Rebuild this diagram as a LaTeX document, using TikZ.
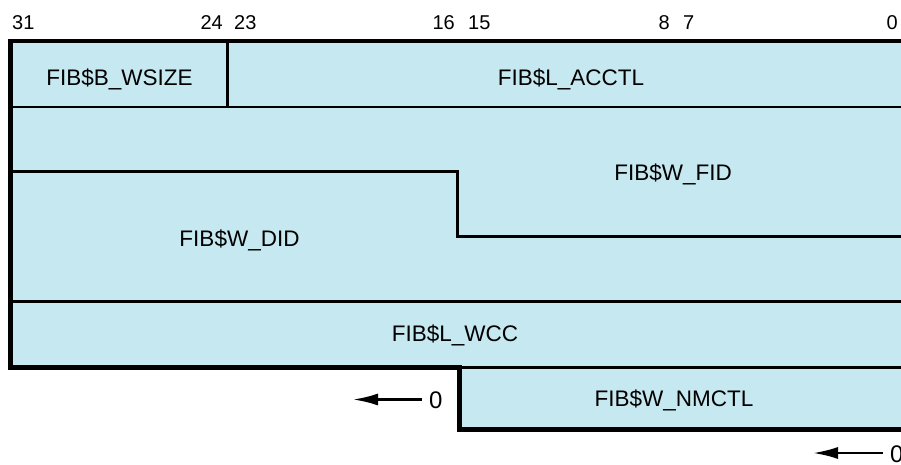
\documentclass[tikz,border=0pt]{standalone}
\usepackage{fontspec}
\setmainfont{Liberation Sans}
\usetikzlibrary{arrows.meta}
\definecolor{fieldblue}{RGB}{198,232,240}
\begin{document}
\begin{tikzpicture}[x=1pt,y=-1pt,
  fieldlbl/.style={font=\fontsize{22.5}{22.5}\selectfont, inner sep=0, anchor=base},
  bitlbl/.style={font=\fontsize{20}{20}\selectfont, inner sep=0},
  zerolbl/.style={font=\fontsize{24}{24}\selectfont, inner sep=0, outer xsep=7pt, anchor=base west},
  frameline/.style={line width=5pt, line join=miter},
  topline/.style={line width=4.5pt},
  sepline/.style={line width=2.6pt},
  arrowline/.style={line width=2.4pt, -{Latex[length=25pt,width=12pt]}}]
\useasboundingbox (0,0) rectangle (901,465);
% fills
\fill[fieldblue] (10.5,41) rectangle (901,367.5);
\fill[fieldblue] (459.5,367.5) rectangle (901,429.5);
% internal separators
\draw[sepline] (227.5,41) -- (227.5,107);
\draw[sepline] (10.5,107) -- (901,107);
\draw[sepline, line join=miter] (10.5,171.5) -- (457.5,171.5) -- (457.5,236.5) -- (901,236.5);
\draw[sepline] (10.5,301.5) -- (901,301.5);
\draw[sepline] (459.5,367.5) -- (901,367.5);
% frame
\draw[topline] (8,41) -- (901,41);
\draw[frameline] (10.5,39) -- (10.5,367.5) -- (459.5,367.5) -- (459.5,429.5) -- (901,429.5);
% bit numbers
\node[bitlbl, anchor=base west] (b31) at (12,30) {31};
\node[bitlbl, anchor=base east] (b24) at (223,30) {24};
\node[bitlbl, anchor=base west] (b23) at (234,30) {23};
\node[bitlbl, anchor=base east] (b16) at (455,30) {16};
\node[bitlbl, anchor=base west] (b15) at (468,30) {15};
\node[bitlbl, anchor=base east] (b8) at (670,30) {8};
\node[bitlbl, anchor=base west] (b7) at (683,30) {7};
\node[bitlbl, anchor=base east] (b0) at (898,30) {0};
% field names
\node[fieldlbl] (wsize) at (119.5,86) {FIB\$B\_WSIZE};
\node[fieldlbl] (acctl) at (571,86) {FIB\$L\_ACCTL};
\node[fieldlbl] (fid) at (673,181) {FIB\$W\_FID};
\node[fieldlbl] (did) at (239.5,246) {FIB\$W\_DID};
\node[fieldlbl] (wcc) at (455,341) {FIB\$L\_WCC};
\node[fieldlbl] (nmctl) at (674,406) {FIB\$W\_NMCTL};
% arrows with 0
\node[zerolbl] (zeroa) at (422,408) {0};
\coordinate (tipa) at (353,399.5);
\draw[arrowline] (zeroa.west |- tipa) -- (tipa);
\node[zerolbl] (zerob) at (883,462) {0};
\coordinate (tipb) at (813,453);
\draw[arrowline] (zerob.west |- tipb) -- (tipb);
\end{tikzpicture}
\end{document}
